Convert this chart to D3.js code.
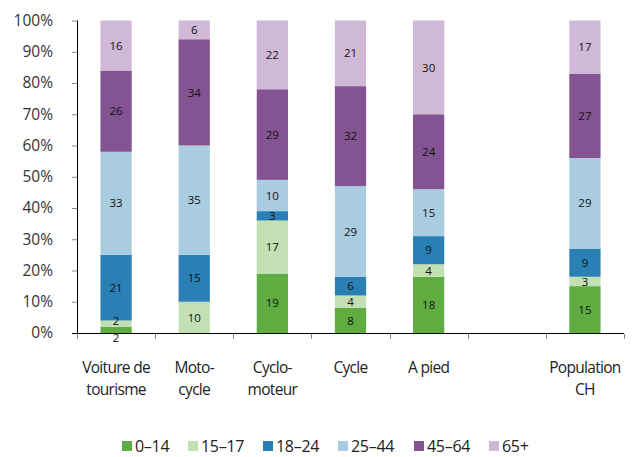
<!DOCTYPE html>
<html>
<head>
<meta charset="utf-8">
<script src="https://cdn.jsdelivr.net/npm/d3@7"></script>
<style>
  body { margin: 0; background: #fff; }
  svg { display: block; font-family: "Open Sans", "DejaVu Sans", sans-serif; }
</style>
</head>
<body>
<svg id="chart" width="636" height="457"></svg>
<script>
// Mode of transport (an empty slot separates the population reference bar)
const categories = ["Voiture de|tourisme", "Moto-|cycle", "Cyclo-|moteur", "Cycle", "A pied", "", "Population|CH"];
const ageGroups = ["0–14", "15–17", "18–24", "25–44", "45–64", "65+"];
const colors = ["#5fad41", "#c2e0b4", "#2a80b5", "#a9cce1", "#845391", "#d0b9d7"];

// Share of each age group (%), one array per category
const share0_14  = [2, 0, 19, 8, 18, null, 15];
const share15_17 = [2, 10, 17, 4, 4, null, 3];
const share18_24 = [21, 15, 3, 6, 9, null, 9];
const share25_44 = [33, 35, 10, 29, 15, null, 29];
const share45_64 = [26, 34, 29, 32, 24, null, 27];
const share65    = [16, 6, 22, 21, 30, null, 17];
const seriesValues = [share0_14, share15_17, share18_24, share25_44, share45_64, share65];
const yTicks = [0, 10, 20, 30, 40, 50, 60, 70, 80, 90, 100];

const svg = d3.select("#chart");
const margin = { left: 77, right: 12, top: 20.5, bottom: 124 };
const W = 636, H = 457;
const x = d3.scaleBand().domain(d3.range(categories.length))
  .range([margin.left, W - margin.right]).paddingInner(0).paddingOuter(0);
const y = d3.scaleLinear().domain([0, 100]).range([H - margin.bottom, margin.top]);
const barW = x.bandwidth() * 0.4;

// Stack the series
const rows = categories.map((c, i) => {
  const r = { i };
  ageGroups.forEach((g, k) => r[g] = seriesValues[k][i] || 0);
  return r;
});
const stacked = d3.stack().keys(ageGroups)(rows);

const g = svg.append("g");
stacked.forEach((layer, k) => {
  layer.forEach((d, i) => {
    const v = seriesValues[k][i];
    if (!v) return;
    const cx = x(i) + x.bandwidth() / 2;
    g.append("rect")
      .attr("x", cx - barW / 2)
      .attr("y", y(d[1]))
      .attr("width", barW)
      .attr("height", y(d[0]) - y(d[1]))
      .attr("fill", colors[k]);
  });
});

// Value labels; very thin segments at the base are nudged apart
stacked.forEach((layer, k) => {
  layer.forEach((d, i) => {
    const v = seriesValues[k][i];
    if (!v) return;
    const cx = x(i) + x.bandwidth() / 2;
    let cy = (y(d[0]) + y(d[1])) / 2;
    const next = k + 1 < ageGroups.length ? seriesValues[k + 1][i] : null;
    const prev = k > 0 ? seriesValues[k - 1][i] : null;
    if (v < 3 && next && next < 3) cy += 8;      // push below the axis
    if (v < 3 && prev && prev < 3) cy -= 2.5;
    g.append("text")
      .attr("x", cx)
      .attr("y", cy)
      .attr("dy", "0.36em")
      .attr("text-anchor", "middle")
      .attr("font-size", 11.5)
      .attr("fill", "#111")
      .text(v);
  });
});

// Y axis
const yAxis = d3.axisLeft(y).tickValues(yTicks).tickFormat(d => d + "%").tickSize(5).tickPadding(19);
const ya = svg.append("g").attr("transform", `translate(${margin.left},0)`).call(yAxis);
ya.select(".domain").attr("stroke", "#000").attr("d", `M0.5,${y(100)}V${y(0)}`);
ya.selectAll(".tick line").attr("stroke", "#888");
ya.selectAll(".tick text").attr("font-size", 15.5).attr("fill", "#333")
  .attr("font-family", "'Open Sans', sans-serif");

// X axis: boundary ticks between categories
const xa = svg.append("g").attr("transform", `translate(0,${y(0)})`);
xa.append("line").attr("x1", margin.left - 5).attr("x2", W - margin.right)
  .attr("y1", 0.5).attr("y2", 0.5).attr("stroke", "#000");
d3.range(categories.length + 1).forEach(i => {
  const tx = Math.round(margin.left + i * x.bandwidth()) + 0.5;
  xa.append("line").attr("x1", tx).attr("x2", tx).attr("y1", 1).attr("y2", 6).attr("stroke", "#888");
});
categories.forEach((c, i) => {
  const lines = c.split("|");
  const t = xa.append("text")
    .attr("text-anchor", "middle")
    .attr("font-size", 15.5)
    .attr("letter-spacing", -0.7)
    .attr("fill", "#222");
  lines.forEach((ln, j) => {
    t.append("tspan").attr("x", x(i) + x.bandwidth() / 2).attr("y", 40 + j * 22).text(ln);
  });
});

// Legend
const legendX = [122, 188, 263, 338, 414, 489];
const lg = svg.append("g");
ageGroups.forEach((label, k) => {
  lg.append("rect").attr("x", legendX[k]).attr("y", 441).attr("width", 10).attr("height", 10).attr("fill", colors[k]);
  lg.append("text").attr("x", legendX[k] + 13).attr("y", 451.5).attr("font-size", 16)
    .attr("letter-spacing", -0.3).attr("fill", "#222").text(label);
});
</script>
</body>
</html>
